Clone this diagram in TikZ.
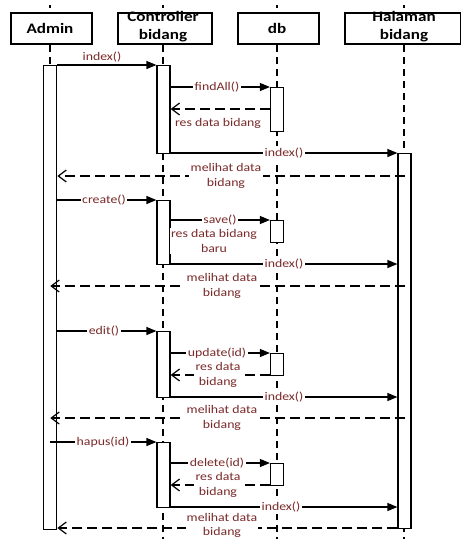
\documentclass[tikz,border=0pt]{standalone}
\usepackage{fontspec}
\usetikzlibrary{arrows.meta}
\newfontfamily\lblfont{Carlito}[FakeStretch=1.18]
\definecolor{lblred}{RGB}{122,42,42}
\begin{document}
\begin{tikzpicture}[x=1pt,y=-1pt,
  headbox/.style={draw,line width=2.2pt,fill=white,anchor=north west,inner sep=0pt},
  headtxt/.style={font=\lblfont\bfseries\fontsize{14.5}{18}\selectfont,align=center,inner sep=0pt},
  life/.style={line width=1.1pt,dash pattern=on 7pt off 5pt},
  bar/.style={draw,line width=1.2pt,fill=white,minimum width=13pt,anchor=north,inner sep=0pt},
  msg/.style={line width=1.2pt,-{Triangle[length=10pt,width=8pt]}},
  ret/.style={line width=1.2pt,dash pattern=on 10pt off 5pt,-{Straight Barb[length=8pt,width=12pt]}},
  lbl/.style={font=\lblfont\fontsize{11.7}{14.5}\selectfont,text=lblred,align=center,inner sep=1.5pt},
  lblw/.style={lbl,fill=white}]
\useasboundingbox (0,0) rectangle (461,539);
% lifeline heads
\node[headbox,minimum width=81pt,minimum height=31pt] (hA) at (10,12) {};
\node[headbox,minimum width=94pt,minimum height=31pt] (hC) at (117,12) {};
\node[headbox,minimum width=81pt,minimum height=31pt] (hD) at (237,12) {};
\node[headbox,minimum width=116pt,minimum height=31pt] (hH) at (344,12) {};
% top ticks
\coordinate (tA) at (50,5); \coordinate (tC) at (163,5); \coordinate (tD) at (277,5); \coordinate (tH) at (404,5);
\foreach \t in {tA,tC,tD,tH} \draw[line width=1.2pt] (\t) -- ++(0,3);
% lifelines
\coordinate (eC) at (163,539); \coordinate (eD) at (277,539); \coordinate (eH) at (404,539);
\draw[life] (hA.south -| tA) -- ++(0,22);
\draw[life] (hC.south -| tC) -- (eC);
\draw[life] (hD.south -| tD) -- (eD);
\draw[life] (hH.south -| tH) -- (eH);
% head texts
\node[headtxt] (tAdmin) at (50,28) {Admin};
\node[headtxt] (tCtrl) at (163,27) {Controller\\bidang};
\node[headtxt] (tDb) at (277,28) {db};
\node[headtxt] (tHal) at (404,27) {Halaman\\bidang};
% activation bars
\node[bar,minimum height=464pt] (a1) at (50.25,65) {};
\node[bar,minimum height=375pt] (h1) at (404.5,153) {};
\node[bar,minimum height=88pt] (c1) at (163.5,65) {};
\node[bar,minimum height=64pt] (c2) at (163.5,200) {};
\node[bar,minimum height=66pt] (c3) at (163.5,331) {};
\node[bar,minimum height=65pt] (c4) at (163.5,442) {};
\node[bar,minimum height=44pt] (d1) at (277,87) {};
\node[bar,minimum height=22pt] (d2) at (277,220) {};
\node[bar,minimum height=22pt] (d3) at (277,353) {};
\node[bar,minimum height=22pt] (d4) at (277,463) {};
% message anchors
\coordinate (y1) at (0,65);   \coordinate (y2) at (0,87);   \coordinate (y3) at (0,109);
\coordinate (y4) at (0,153);  \coordinate (y5) at (0,176);  \coordinate (y6) at (0,200);
\coordinate (y7) at (0,220);  \coordinate (y8) at (0,264);  \coordinate (y9) at (0,286);
\coordinate (y10) at (0,331); \coordinate (y11) at (0,353); \coordinate (y12) at (0,375);
\coordinate (y13) at (0,397); \coordinate (y14) at (0,418); \coordinate (y15) at (0,442);
\coordinate (y16) at (0,463); \coordinate (y17) at (0,485); \coordinate (y18) at (0,507);
\coordinate (y19) at (0,528);
% messages
\draw[msg] (a1.east |- y1) -- (c1.west |- y1);
\draw[msg] (c1.east |- y2) -- (d1.west |- y2);
\draw[ret] (d1.west |- y3) -- (c1.east |- y3);
\draw[msg] (c1.east |- y4) -- (h1.west |- y4);
\draw[ret] (h1.center |- y5) -- (a1.east |- y5);
\draw[msg] (a1.east |- y6) -- (c2.west |- y6);
\draw[msg] (c2.east |- y7) -- (d2.west |- y7);
\draw[msg] (c2.east |- y8) -- (h1.west |- y8);
\draw[ret] (h1.center |- y9) -- (a1.center |- y9);
\draw[msg] (a1.east |- y10) -- (c3.west |- y10);
\draw[msg] (c3.east |- y11) -- (d3.west |- y11);
\draw[ret] (d3.west |- y12) -- (c3.east |- y12);
\draw[msg] (c3.east |- y13) -- (h1.west |- y13);
\draw[ret] (h1.center |- y14) -- (a1.center |- y14);
\draw[msg] (a1.center |- y15) -- (c4.west |- y15);
\draw[msg] (c4.east |- y16) -- (d4.west |- y16);
\draw[ret] (d4.west |- y17) -- (c4.east |- y17);
\draw[msg] (c4.east |- y18) -- (h1.west |- y18);
\draw[ret] (h1.west |- y19) -- (a1.east |- y19);
% labels
\node[lbl] (L1) at (102,57) {index()};
\node[lblw] (L2) at (217,87) {findAll()};
\node[lblw] (L3) at (218,123) {res data bidang};
\node[lblw] (L4) at (284,153) {index()};
\node[lblw] (L5) at (226,176) {melihat data\\bidang};
\node[lblw] (L6) at (104,200) {create()};
\node[lblw] (L7) at (220,220) {save()};
\node[lblw] (L8) at (214,241) {res data bidang\\baru};
\node[lblw] (L9) at (284,264) {index()};
\node[lblw] (L10) at (222,286) {melihat data\\bidang};
\node[lblw] (L11) at (104,331) {edit()};
\node[lblw] (L12) at (217,353) {update(id)};
\node[lblw] (L13) at (218,375) {res data\\bidang};
\node[lblw] (L14) at (284,397) {index()};
\node[lblw] (L15) at (222,418) {melihat data\\bidang};
\node[lblw] (L16) at (103,442) {hapus(id)};
\node[lblw] (L17) at (217,463) {delete(id)};
\node[lblw] (L18) at (218,485) {res data\\bidang};
\node[lblw] (L19) at (281,507) {index()};
\node[lblw,inner sep=0.5pt] (L20) at (222,525.5) {melihat data\\bidang};
\end{tikzpicture}
\end{document}
